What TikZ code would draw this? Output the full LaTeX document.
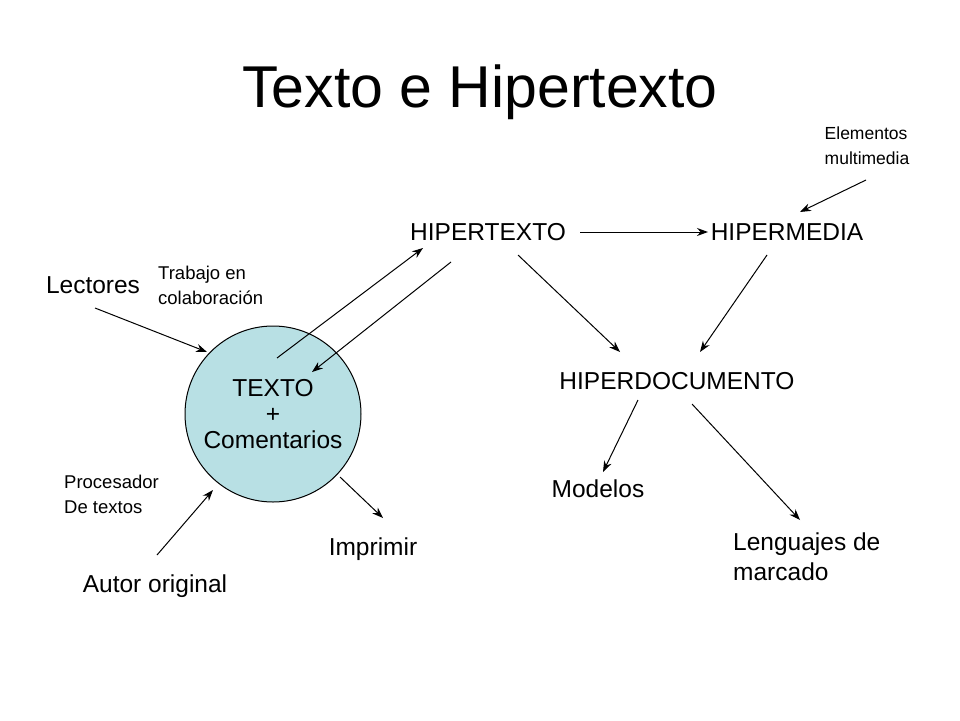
\documentclass[tikz,border=0pt]{standalone}
\usepackage{fontspec}
\usetikzlibrary{arrows.meta}
\setmainfont{Liberation Sans}
\begin{document}
\begin{tikzpicture}[x=1pt,y=-1pt,
  lbl/.style={inner sep=0pt,font=\fontsize{24.5}{30}\selectfont},
  sml/.style={inner sep=0pt,font=\fontsize{18.5}{25}\selectfont,align=left},
  arr/.style={-{Stealth[length=11pt,width=8pt]},line width=1pt}]
\useasboundingbox (0,0) rectangle (960,720);
\node[inner sep=0pt,font=\fontsize{59}{70}\selectfont] (title) at (480,92) {Texto e Hipertexto};
\node[circle,draw,line width=1pt,fill={rgb,255:red,184;green,224;blue,228},minimum size=176pt,align=center,inner sep=0pt,font=\fontsize{24.5}{26}\selectfont] (c) at (273,414) {TEXTO\\+\\Comentarios};
\node[lbl] (ht) at (488,232) {HIPERTEXTO};
\node[lbl] (hm) at (787,232) {HIPERMEDIA};
\node[lbl] (hd) at (677,381) {HIPERDOCUMENTO};
\node[lbl] (lec) at (93,285) {Lectores};
\node[lbl] (aut) at (155,586) {Autor original};
\node[lbl] (imp) at (373,549) {Imprimir};
\node[lbl] (mod) at (598,489) {Modelos};
\node[lbl,anchor=west,align=left,font=\fontsize{24.5}{30}\selectfont] (len) at (733,557) {Lenguajes de\\marcado};
\node[sml,anchor=west] (tra) at (158,285) {Trabajo en\\colaboración};
\node[sml,anchor=west] (pro) at (64,494) {Procesador\\De textos};
\node[sml,font=\fontsize{17.5}{25}\selectfont] (ele) at (867,146) {Elementos\\multimedia};
\coordinate (a1) at (95,308); \coordinate (b1) at (207,352);
\coordinate (a2) at (157,555); \coordinate (b2) at (213,490);
\coordinate (a3) at (277,358); \coordinate (b3) at (423,248);
\coordinate (a4) at (451,262); \coordinate (b4) at (312,372);
\coordinate (a5) at (340,477); \coordinate (b5) at (383,518);
\coordinate (a6) at (580,232); \coordinate (b6) at (708,232);
\coordinate (a7) at (866,180); \coordinate (b7) at (800,212);
\coordinate (a8) at (518,255); \coordinate (b8) at (620,352);
\coordinate (a9) at (767,255); \coordinate (b9) at (700,352);
\coordinate (a10) at (638,400); \coordinate (b10) at (603,472);
\coordinate (a11) at (692,404); \coordinate (b11) at (800,520);
\foreach \i in {1,...,11} \draw[arr] (a\i) -- (b\i);
\end{tikzpicture}
\end{document}
